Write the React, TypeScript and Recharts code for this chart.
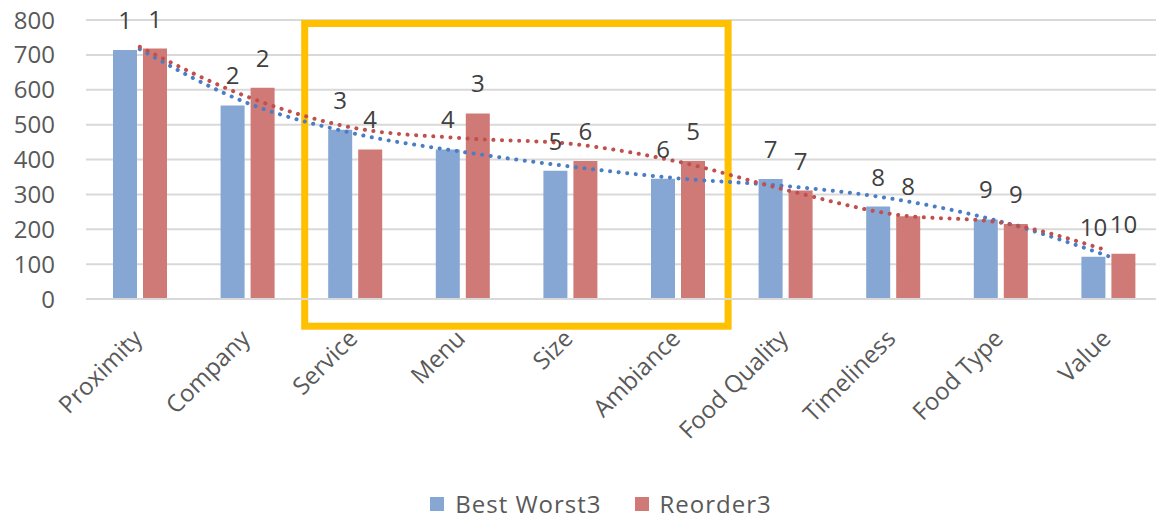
import React from 'react';
import {
  ComposedChart,
  Bar,
  Line,
  XAxis,
  YAxis,
  CartesianGrid,
  Legend,
  LabelList,
  ReferenceArea,
} from 'recharts';

const categories = [
  'Proximity',
  'Company',
  'Service',
  'Menu',
  'Size',
  'Ambiance',
  'Food Quality',
  'Timeliness',
  'Food Type',
  'Value',
];
const bestWorst = [714, 555, 485, 429, 368, 345, 344, 265, 228, 121];
const reorder = [718, 606, 429, 532, 396, 396, 311, 237, 215, 130];
const bestWorstRank = [1, 2, 3, 4, 5, 6, 7, 8, 9, 10];
const reorderRank = [1, 2, 4, 3, 6, 5, 7, 8, 9, 10];
// dotted trend lines at each category
const bestWorstTrend = [716, 562, 474, 422, 380, 346, 324, 287, 222, 123];
const reorderTrend = [723, 580, 490, 461, 445, 394, 313, 243, 219, 138];
const yTicks = [0, 100, 200, 300, 400, 500, 600, 700, 800];

const data = categories.map((name, i) => ({
  name,
  bestWorst: bestWorst[i],
  reorder: reorder[i],
  bestWorstRank: bestWorstRank[i],
  reorderRank: reorderRank[i],
  bestWorstTrend: bestWorstTrend[i],
  reorderTrend: reorderTrend[i],
}));

const FONT = '"Open Sans", "Noto Sans", sans-serif';
const TEXT = '#595959';
const BLUE = '#86A7D4';
const RED = '#D07A77';

const XTick = (props: any) => {
  const { x, y, payload } = props;
  const ax = x + 4;
  const ay = y + 33;
  return (
    <text
      x={ax}
      y={ay}
      transform={`rotate(-45 ${ax} ${ay})`}
      textAnchor="end"
      fontSize={24}
      fontFamily={FONT}
      fill={TEXT}
    >
      {payload.value}
    </text>
  );
};

const Highlight = (props: any) => {
  const { x, y, width, height } = props;
  const inset = 3.5;
  return (
    <rect
      x={x + inset}
      y={y + inset}
      width={width - inset * 2}
      height={height - inset * 2}
      fill="none"
      stroke="#FFC000"
      strokeWidth={7}
    />
  );
};

const legendItems = [
  { label: 'Best Worst3', color: BLUE },
  { label: 'Reorder3', color: RED },
];

const LegendContent = () => (
  <div
    style={{
      display: 'flex',
      justifyContent: 'center',
      alignItems: 'center',
      height: 40,
      paddingTop: 12,
      paddingBottom: 4,
      paddingLeft: 40,
      boxSizing: 'border-box',
      fontFamily: FONT,
      fontSize: 24,
      lineHeight: '22px',
      color: TEXT,
    }}
  >
    {legendItems.map((item, i) => (
      <div key={item.label} style={{ display: 'flex', alignItems: 'center', marginLeft: i === 0 ? 0 : 33 }}>
        <span style={{ width: 14, height: 14, background: item.color, marginRight: 11, display: 'inline-block' }} />
        <span style={{ letterSpacing: 1 }}>{item.label}</span>
      </div>
    ))}
  </div>
);

const App: React.FC = () => {
  return (
    <div style={{ position: 'absolute', left: 0, top: 0, width: 1156, height: 520, overflow: 'hidden', background: '#fff' }}>
      <ComposedChart
        width={1162}
        height={520}
        data={data}
        margin={{ top: 20, right: 0, bottom: 0, left: 0 }}
        barSize={24}
        barGap={6}
        style={{ fontFamily: FONT }}
      >
        <CartesianGrid vertical={false} stroke="#d9d9d9" strokeWidth={2} />
        <XAxis
          dataKey="name"
          height={181}
          axisLine={{ stroke: '#d9d9d9', strokeWidth: 2 }}
          tickLine={false}
          interval={0}
          tick={<XTick />}
        />
        <YAxis
          width={86}
          domain={[0, 800]}
          ticks={yTicks}
          axisLine={false}
          tickLine={false}
          tickMargin={25}
          tick={{ fontSize: 24, fill: TEXT, fontFamily: FONT }}
        />
        <Legend verticalAlign="bottom" height={40} content={<LegendContent />} />
        <Bar dataKey="bestWorst" name="Best Worst3" fill={BLUE} isAnimationActive={false}>
          <LabelList dataKey="bestWorstRank" position="top" offset={21} fontSize={24} fill="#404040" fontFamily={FONT} />
        </Bar>
        <Bar dataKey="reorder" name="Reorder3" fill={RED} isAnimationActive={false}>
          <LabelList dataKey="reorderRank" position="top" offset={21} fontSize={24} fill="#404040" fontFamily={FONT} />
        </Bar>
        <Line
          dataKey="bestWorstTrend"
          type="monotone"
          stroke="#4A7EC4"
          strokeWidth={4}
          strokeDasharray="0.1 8.5"
          strokeLinecap="round"
          dot={false}
          activeDot={false}
          legendType="none"
          isAnimationActive={false}
        />
        <Line
          dataKey="reorderTrend"
          type="monotone"
          stroke="#C0504D"
          strokeWidth={4}
          strokeDasharray="0.1 8.5"
          strokeLinecap="round"
          dot={false}
          activeDot={false}
          legendType="none"
          isAnimationActive={false}
        />
        <ReferenceArea
          x1="Service"
          x2="Ambiance"
          y1={800}
          y2={-88}
          ifOverflow="visible"
          shape={<Highlight />}
        />
      </ComposedChart>
    </div>
  );
};

export default App;
